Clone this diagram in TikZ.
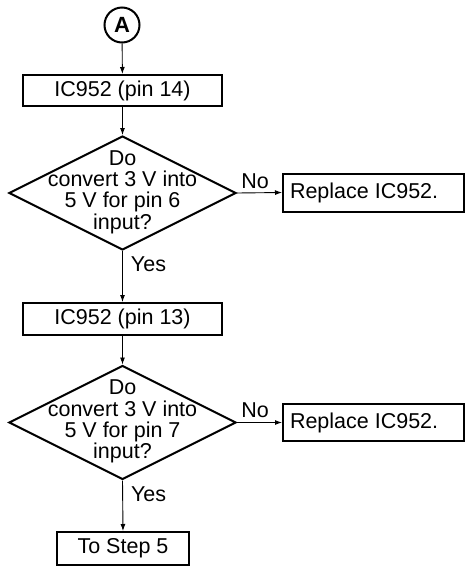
\documentclass[tikz,border=0pt]{standalone}
\usepackage{fontspec}
\setmainfont{Liberation Sans}
\usetikzlibrary{shapes.geometric,arrows.meta}
\newcommand{\lefttext}[1]{\makebox[167pt][l]{#1}}
\begin{document}
\begin{tikzpicture}[x=1pt,y=1pt,
  every node/.style={font=\fontsize{21.5}{21.3}\selectfont},
  box/.style={draw,line width=2pt,inner sep=0,minimum height=#1},
  box/.default=31,
  repl/.style={draw,line width=2pt,inner ysep=0,inner xsep=7,minimum height=#1},
  dia/.style={draw,shape=diamond,line width=2pt,inner sep=0,minimum width=227,minimum height=114},
  conn/.style={line width=0.9pt,-{Latex[length=7,width=5]}},
  lab/.style={inner sep=0}]
\useasboundingbox (0,0) rectangle (466,-571);
\node[draw,circle,line width=2pt,inner sep=0,minimum size=35,font=\fontsize{22}{22}\selectfont\bfseries] (a) at (122,-25) {A};
\node[box=31,minimum width=199] (b1) at (122.5,-90.5) {IC952 (pin 14)};
\node[dia] (d1) at (122.5,-193) {};
\node[align=center,inner sep=0] (d1t) at (122.5,-192) {Do\\convert 3 V into\\5 V for pin 6\\input?};
\node[repl=38] (r1) at (373.5,-192.5) {\lefttext{Replace IC952.}};
\node[box=32,minimum width=199] (b2) at (122.5,-319) {IC952 (pin 13)};
\node[dia] (d2) at (122.5,-422.5) {};
\node[align=center,inner sep=0] (d2t) at (122.5,-421.5) {Do\\convert 3 V into\\5 V for pin 7\\input?};
\node[repl=37] (r2) at (373.5,-422.5) {\lefttext{Replace IC952.}};
\node[box=33,minimum width=132] (s5) at (123,-548.5) {To Step 5};
\draw[conn] (a) -- (b1);
\draw[conn] (b1) -- (d1);
\draw[conn] (d1.east) -- (r1.west) node[lab,pos=0.4,above=4pt] (n1) {No};
\draw[conn] (d1.south) -- (b2.north) node[lab,pos=0.26,right=8pt] (y1) {Yes};
\draw[conn] (b2) -- (d2);
\draw[conn] (d2.east) -- (r2.west) node[lab,pos=0.4,above=4pt] (n2) {No};
\draw[conn] (d2.south) -- (s5.north) node[lab,pos=0.27,right=8pt] (y2) {Yes};
\end{tikzpicture}
\end{document}
